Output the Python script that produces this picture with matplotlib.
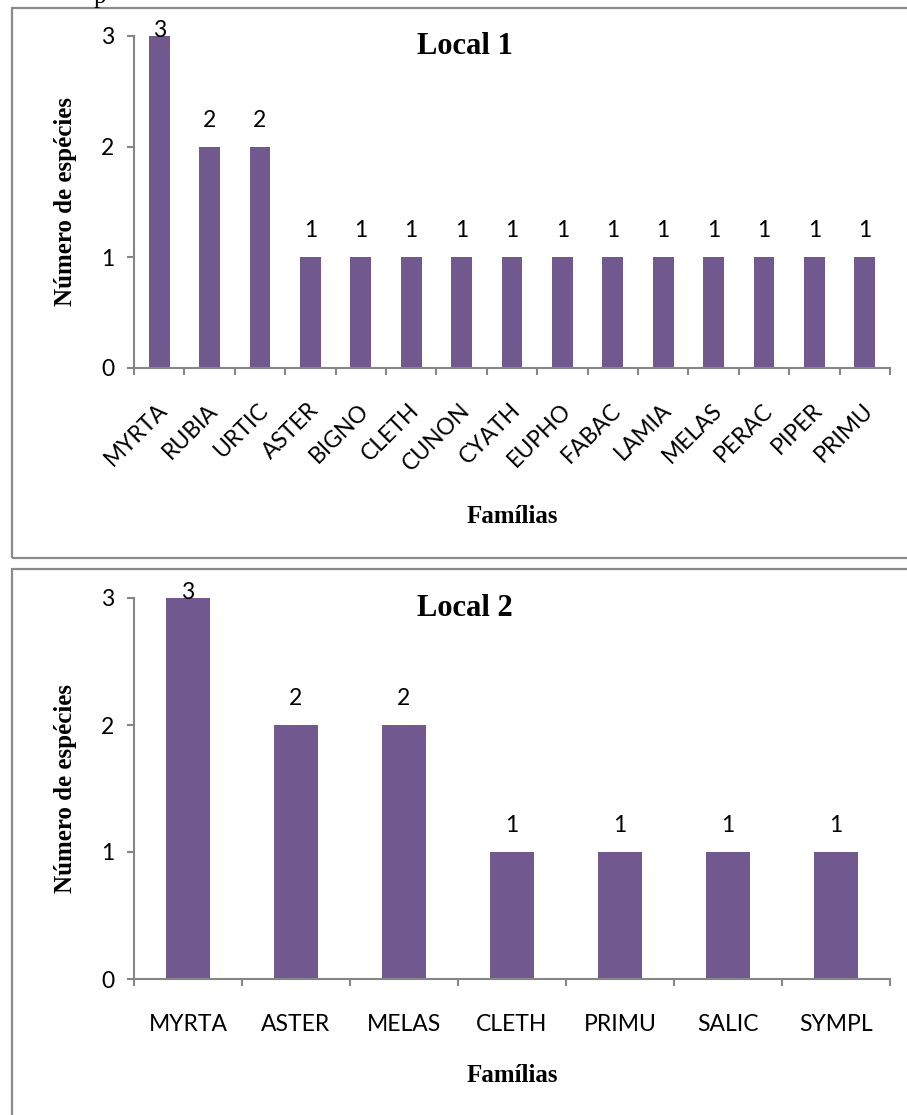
import matplotlib
matplotlib.use("Agg")
import matplotlib.pyplot as plt
import matplotlib.patches as patches
import matplotlib.transforms as mtransforms
import numpy as np

plt.rcParams['font.family'] = ['Lato', 'DejaVu Sans']

# dados
familias_1 = ['MYRTA', 'RUBIA', 'URTIC', 'ASTER', 'BIGNO', 'CLETH', 'CUNON', 'CYATH',
              'EUPHO', 'FABAC', 'LAMIA', 'MELAS', 'PERAC', 'PIPER', 'PRIMU']
especies_1 = [3, 2, 2, 1, 1, 1, 1, 1, 1, 1, 1, 1, 1, 1, 1]

familias_2 = ['MYRTA', 'ASTER', 'MELAS', 'CLETH', 'PRIMU', 'SALIC', 'SYMPL']
especies_2 = [3, 2, 2, 1, 1, 1, 1]

BAR = '#71588F'
AXC = '#868686'
SERIF = ['Liberation Serif', 'DejaVu Serif']

W, H = 907, 1115
fig = plt.figure(figsize=(W / 100, H / 100), dpi=100)


def px(x0, y0, x1, y1):
    """caixa em pixels (topo-esquerda) -> fração da figura"""
    return [x0 / W, 1 - y1 / H, (x1 - x0) / W, (y1 - y0) / H]


def painel(ax, cats, vals, rot, xlab_y):
    n = len(cats)
    x = np.arange(n)
    ax.bar(x, vals, width=0.41, color=BAR, zorder=2)
    ax.set_xlim(-0.5, n - 0.5)
    ax.set_ylim(0, 3)

    for s in ['top', 'right']:
        ax.spines[s].set_visible(False)
    for s in ['left', 'bottom']:
        ax.spines[s].set_color(AXC)
        ax.spines[s].set_linewidth(1.5)

    ax.set_yticks([0, 1, 2, 3])
    ax.tick_params(axis='y', length=5, width=1.5, color=AXC, pad=9, labelsize=16.5)

    # marcas entre categorias, rótulos no centro
    ax.set_xticks(np.arange(-0.5, n, 1.0), minor=True)
    ax.tick_params(axis='x', which='minor', length=5, width=1.5, color=AXC)
    ax.set_xticks(x)
    if rot:
        ax.set_xticklabels(cats, rotation=45, ha='right', va='center',
                           rotation_mode='anchor', fontsize=16.5)
        ax.tick_params(axis='x', which='major', length=0, pad=28)
        off = mtransforms.ScaledTranslation(5 / 100, 0, fig.dpi_scale_trans)
        for lb in ax.get_xticklabels():
            lb.set_transform(lb.get_transform() + off)
    else:
        ax.set_xticklabels(cats, fontsize=16.5)
        ax.tick_params(axis='x', which='major', length=0, pad=25)

    # rótulos de dados
    vmax = max(vals)
    for xi, v in zip(x, vals):
        dy = 4 if v == vmax else 19
        ax.annotate(str(v), (xi, v), xytext=(0, dy), textcoords='offset points',
                    ha='center', va='center', fontsize=16.5, annotation_clip=False)

    ax.set_ylabel('Número de espécies', family=SERIF, fontweight='bold', fontsize=18)
    ax.yaxis.set_label_coords(-0.076, 0.5)
    ax.set_xlabel('Famílias', family=SERIF, fontweight='bold', fontsize=18)
    ax.xaxis.set_label_coords(0.5, xlab_y)
    return ax


ax1 = fig.add_axes(px(134, 36, 890, 368))
painel(ax1, familias_1, especies_1, True, -0.413)
ax2 = fig.add_axes(px(134, 598, 890, 979))
painel(ax2, familias_2, especies_2, False, -0.223)

fig.text(465 / W, 1 - 47 / H, 'Local 1', family=SERIF, fontweight='bold',
         fontsize=22, ha='center', va='center')
fig.text(465 / W, 1 - 609 / H, 'Local 2', family=SERIF, fontweight='bold',
         fontsize=22, ha='center', va='center')

# molduras dos gráficos
for (y0, y1) in [(8, 558), (569, 1200)]:
    r = patches.Rectangle((12 / W, 1 - y1 / H), (W + 40) / W, (y1 - y0) / H,
                          transform=fig.transFigure, fill=False,
                          edgecolor='#8a8a8a', linewidth=1.6, zorder=0)
    fig.add_artist(r)

# resto de texto cortado no topo
fig.text(100 / W, 1 - 3 / H, 'p', family=SERIF, fontsize=18, ha='center', va='baseline')

fig.savefig('out.png', dpi=100)
